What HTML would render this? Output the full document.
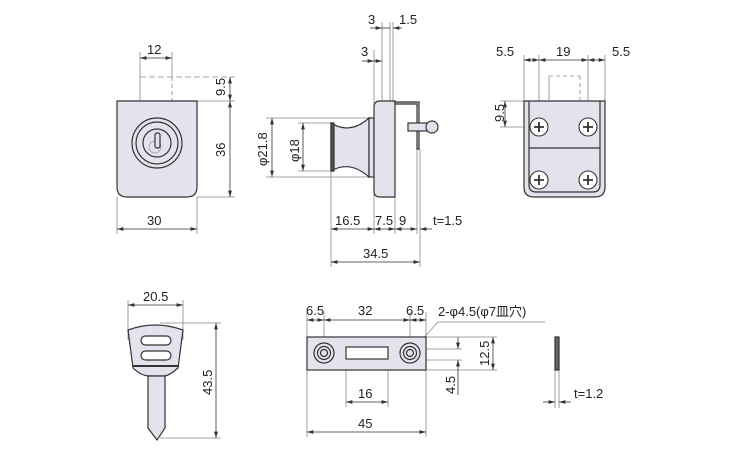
<!DOCTYPE html>
<html><head><meta charset="utf-8"><style>
html,body{margin:0;padding:0;background:#fff;}
svg{display:block;}
text{font-family:"Liberation Sans","Noto Sans CJK JP",sans-serif;font-size:13px;fill:#222;}
</style></head><body>
<svg width="750" height="450" viewBox="0 0 750 450" xmlns="http://www.w3.org/2000/svg">
<defs>
<marker id="a" viewBox="0 0 10 6" refX="10" refY="3" markerWidth="8" markerHeight="5" orient="auto-start-reverse"><path d="M0,0L10,3L0,6z" fill="#333"/></marker>
</defs>
<g stroke="#888" stroke-width="0.8" fill="none">
<line x1="140" y1="52" x2="140" y2="101"/><line x1="172" y1="52" x2="172" y2="77"/>
<line x1="172" y1="77" x2="172" y2="101" stroke-dasharray="4,3"/>
<line x1="140" y1="77" x2="235" y2="77" stroke-dasharray="6,3"/>
<line x1="197" y1="101" x2="235" y2="101"/><line x1="197" y1="197" x2="235" y2="197"/>
<line x1="117" y1="197" x2="117" y2="234"/><line x1="197" y1="197" x2="197" y2="234"/>
<line x1="266" y1="118" x2="372" y2="118"/><line x1="266" y1="177" x2="372" y2="177"/>
<line x1="298" y1="123" x2="331" y2="123"/><line x1="298" y1="171" x2="331" y2="171"/>
<line x1="331" y1="171" x2="331" y2="267"/><line x1="374" y1="50" x2="374" y2="234"/>
<line x1="382" y1="22" x2="382" y2="101"/><line x1="390" y1="22" x2="390" y2="101"/><line x1="393" y1="22" x2="393" y2="101"/>
<line x1="395" y1="197" x2="395" y2="234"/><line x1="417" y1="149" x2="417" y2="234"/><line x1="420" y1="149" x2="420" y2="267"/>
<line x1="524" y1="55" x2="524" y2="101"/><line x1="539" y1="55" x2="539" y2="127"/><line x1="588" y1="55" x2="588" y2="127"/><line x1="605" y1="55" x2="605" y2="101"/>
<line x1="500" y1="101" x2="524" y2="101"/><line x1="500" y1="127" x2="550" y2="127"/>
<line x1="128" y1="300" x2="128" y2="340"/><line x1="183" y1="300" x2="183" y2="340"/>
<line x1="160" y1="323" x2="221" y2="323"/><line x1="160" y1="438" x2="221" y2="438"/>
<line x1="307" y1="312" x2="307" y2="437"/><line x1="426" y1="312" x2="426" y2="437"/>
<line x1="324" y1="312" x2="324" y2="353"/><line x1="410" y1="312" x2="410" y2="353"/>
<line x1="346" y1="359" x2="346" y2="407"/><line x1="388" y1="359" x2="388" y2="407"/>
<line x1="426" y1="337" x2="497" y2="337"/><line x1="426" y1="370" x2="497" y2="370"/>
<line x1="400" y1="349" x2="462" y2="349"/><line x1="400" y1="360" x2="462" y2="360"/>
<line x1="555" y1="370" x2="555" y2="408"/><line x1="559" y1="370" x2="559" y2="408"/>
<line x1="410" y1="353" x2="438" y2="322"/><line x1="438" y1="322" x2="545" y2="322"/>
</g>
<g stroke="#333" stroke-width="0.8" fill="none">
<line x1="140" y1="58" x2="172" y2="58" marker-start="url(#a)" marker-end="url(#a)"/>
<line x1="230" y1="77" x2="230" y2="101" marker-start="url(#a)" marker-end="url(#a)"/>
<line x1="230" y1="101" x2="230" y2="197" marker-start="url(#a)" marker-end="url(#a)"/>
<line x1="117" y1="229" x2="197" y2="229" marker-start="url(#a)" marker-end="url(#a)"/>
<line x1="272" y1="118" x2="272" y2="177" marker-start="url(#a)" marker-end="url(#a)"/>
<line x1="303" y1="123" x2="303" y2="171" marker-start="url(#a)" marker-end="url(#a)"/>
<line x1="331" y1="229" x2="374" y2="229" marker-start="url(#a)" marker-end="url(#a)"/>
<line x1="374" y1="229" x2="395" y2="229" marker-start="url(#a)" marker-end="url(#a)"/>
<line x1="395" y1="229" x2="417" y2="229" marker-start="url(#a)" marker-end="url(#a)"/>
<line x1="432" y1="229" x2="420" y2="229" marker-end="url(#a)"/>
<line x1="331" y1="262" x2="420" y2="262" marker-start="url(#a)" marker-end="url(#a)"/>
<line x1="370" y1="28" x2="382" y2="28" marker-end="url(#a)"/><line x1="382" y1="28" x2="390" y2="28"/>
<line x1="402" y1="28" x2="393" y2="28" marker-end="url(#a)"/>
<line x1="362" y1="61" x2="374" y2="61" marker-end="url(#a)"/><line x1="374" y1="61" x2="382" y2="61" marker-end="url(#a)"/>
<line x1="524" y1="60" x2="539" y2="60" marker-start="url(#a)" marker-end="url(#a)"/>
<line x1="539" y1="60" x2="588" y2="60" marker-start="url(#a)" marker-end="url(#a)"/>
<line x1="588" y1="60" x2="605" y2="60" marker-start="url(#a)" marker-end="url(#a)"/>
<line x1="505" y1="101" x2="505" y2="127" marker-start="url(#a)" marker-end="url(#a)"/>
<line x1="128" y1="305" x2="183" y2="305" marker-start="url(#a)" marker-end="url(#a)"/>
<line x1="216" y1="323" x2="216" y2="438" marker-start="url(#a)" marker-end="url(#a)"/>
<line x1="307" y1="320" x2="324" y2="320" marker-start="url(#a)" marker-end="url(#a)"/>
<line x1="324" y1="320" x2="410" y2="320" marker-start="url(#a)" marker-end="url(#a)"/>
<line x1="410" y1="320" x2="426" y2="320" marker-start="url(#a)" marker-end="url(#a)"/>
<line x1="346" y1="402" x2="388" y2="402" marker-start="url(#a)" marker-end="url(#a)"/>
<line x1="307" y1="432" x2="426" y2="432" marker-start="url(#a)" marker-end="url(#a)"/>
<line x1="493" y1="337" x2="493" y2="370" marker-start="url(#a)" marker-end="url(#a)"/>
<line x1="458" y1="337" x2="458" y2="349" marker-end="url(#a)"/><line x1="458" y1="395" x2="458" y2="360" marker-end="url(#a)"/>
<line x1="543" y1="402" x2="555" y2="402" marker-end="url(#a)"/><line x1="571" y1="402" x2="559" y2="402" marker-end="url(#a)"/>
</g>
<g stroke="#333" stroke-width="1.2" fill="#e3e3ee">
<path d="M117,101H197V187Q197,197 187,197H127Q117,197 117,187Z"/>
<circle cx="157" cy="143" r="25"/><circle cx="157" cy="143" r="21"/><circle cx="157" cy="143" r="14"/>
<circle cx="155" cy="147" r="6" fill="none" stroke="#999" stroke-width="0.8"/>
<rect x="155" y="133" width="5" height="15" rx="2"/>
<path d="M331,123Q350,135 369,118V177Q350,160 331,171Z"/>
<rect x="331" y="123" width="3" height="48" fill="#555"/>
<rect x="369" y="118" width="5" height="59"/>
<path d="M374,107Q374,101 380,101H395V197H380Q374,197 374,191Z"/>
<path d="M395,102H419V149H417V104H395Z" fill="#ddd"/>
<rect x="408" y="123" width="20" height="8"/><circle cx="432" cy="127" r="6"/>
<path d="M524,101H605V187Q605,197 595,197H534Q524,197 524,187Z"/>
<path d="M529,101V185Q529,192 536,192H593Q600,192 600,185V101" fill="none"/>
<line x1="529" y1="148" x2="600" y2="148"/>
<path d="M128,330Q155,320 183,330L178,368Q170,375 165,376H148Q140,375 133,368Z"/>
<path d="M148,376H165V428L157,440L148,428Z"/>
<rect x="141" y="336" width="30" height="9" rx="4.5" fill="#fff"/>
<rect x="141" y="351" width="30" height="9" rx="4.5" fill="#fff"/>
<line x1="133" y1="366" x2="179" y2="366" stroke-width="2"/>
<rect x="307" y="337" width="119" height="33"/>
<rect x="346" y="347" width="42" height="12" fill="#fff"/>
<circle cx="324" cy="353" r="10"/><circle cx="324" cy="353" r="6.5"/><circle cx="324" cy="353" r="3.5"/>
<circle cx="410" cy="353" r="10"/><circle cx="410" cy="353" r="6.5"/><circle cx="410" cy="353" r="3.5"/>
<rect x="555" y="337" width="4" height="33" fill="#666"/>
</g>
<g stroke="#888" stroke-width="0.8" fill="none">
<line x1="549" y1="101" x2="549" y2="76"/><line x1="549" y1="76" x2="580" y2="76" stroke-dasharray="4,3"/><line x1="580" y1="76" x2="580" y2="101" stroke-dasharray="4,3"/>
</g>
<g stroke="#333" stroke-width="1.1" fill="#fff">
<circle cx="539" cy="127" r="9"/><circle cx="588" cy="127" r="9"/><circle cx="539" cy="180" r="9"/><circle cx="588" cy="180" r="9"/>
</g>
<g stroke="#333" stroke-width="1.8">
<path d="M534,127h10M539,122v10M583,127h10M588,122v10M534,180h10M539,175v10M583,180h10M588,175v10"/>
</g>
<text x="147" y="54">12</text>
<text transform="translate(225,96) rotate(-90)">9.5</text>
<text transform="translate(225,157) rotate(-90)">36</text>
<text x="147" y="225">30</text>
<text transform="translate(267,166) rotate(-90)">φ21.8</text>
<text transform="translate(299,162) rotate(-90)">φ18</text>
<text x="335" y="225">16.5</text><text x="375" y="225">7.5</text><text x="399" y="225">9</text><text x="433" y="225">t=1.5</text>
<text x="363" y="258">34.5</text>
<text x="368" y="24">3</text><text x="399" y="24">1.5</text><text x="361" y="56">3</text>
<text x="496" y="56">5.5</text><text x="556" y="56">19</text><text x="612" y="56">5.5</text>
<text transform="translate(504,122) rotate(-90)">9.5</text>
<text x="143" y="301">20.5</text>
<text transform="translate(212,395) rotate(-90)">43.5</text>
<text x="306" y="315">6.5</text><text x="358" y="315">32</text><text x="406" y="315">6.5</text>
<text x="438" y="316">2-φ4.5(φ7皿穴)</text>
<text transform="translate(489,366) rotate(-90)">12.5</text>
<text transform="translate(455,394) rotate(-90)">4.5</text>
<text x="358" y="398">16</text><text x="358" y="428">45</text>
<text x="574" y="398">t=1.2</text>
</svg>
</body></html>
